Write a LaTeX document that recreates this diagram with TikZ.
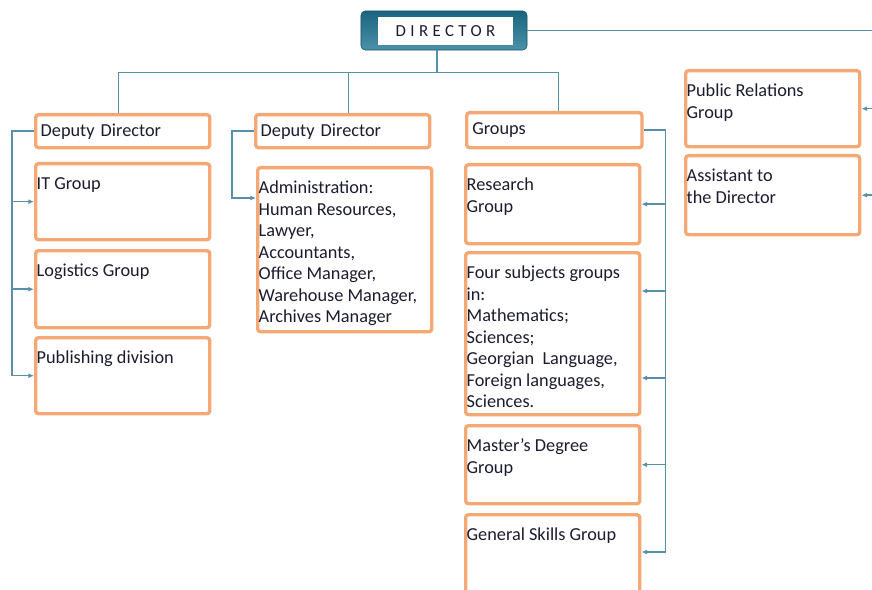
\documentclass[tikz,border=0pt]{standalone}
\usepackage{fontspec}
\setmainfont{Carlito}
\usetikzlibrary{arrows.meta,calc}

\definecolor{boxorange}{RGB}{244,168,118}
\definecolor{linkblue}{RGB}{88,144,170}
\definecolor{headteal}{RGB}{30,118,148}
\definecolor{ink}{RGB}{28,28,48}

% tall boxes: text hangs from the top
\newcommand{\cellbox}[2]{\parbox[c][#1][t]{4.3cm}{\raggedright\rule{0pt}{0.65cm}#2}}

\tikzset{
    unit/.style={draw=boxorange, line width=2.4pt, rounded corners=2pt, fill=white,
        anchor=north west, inner sep=0pt, minimum width=4.35cm, text=ink,
        font=\fontsize{13}{15.3}\selectfont},
    head/.style={unit, minimum height=#1, text width=4.1cm, align=left},
    link/.style={draw=linkblue, line width=1.1pt},
    feed/.style={link, -{Latex[length=4pt,width=3.5pt]}}
}

\begin{document}
\begin{tikzpicture}[x=0.025cm, y=-0.025cm]
    \useasboundingbox (0,0) rectangle (872,590);

    % top of the chart
    \node[draw=headteal!70!black, top color=headteal!85!black, bottom color=headteal!80!white,
        rounded corners=3pt, minimum width=4.15cm, minimum height=0.975cm] (director) at (444,30.5) {};
    \node[fill=white, minimum width=3.375cm, minimum height=0.7cm, text=ink,
        font=\fontsize{12}{14}\selectfont] (dirlabel) at (445.5,31) {\addfontfeature{LetterSpace=26}DIRECTOR};

    % first column
    \node[head=0.825cm] (dep1) at (34,113) {Deputy Director};
    \node[unit] (it) at (34,162) {\cellbox{1.9cm}{IT Group}};
    \node[unit] (logi) at (34,249) {\cellbox{1.925cm}{Logistics Group}};
    \node[unit] (pub) at (34,336) {\cellbox{1.9cm}{Publishing division}};

    % second column
    \node[head=0.825cm] (dep2) at (254,113) {Deputy Director};
    \node[unit] (admin) at (256,166) {\cellbox{4.1cm}{Administration:\\Human Resources,\\Lawyer,\\Accountants,\\Office Manager,\\Warehouse Manager,\\Archives Manager}};

    % third column
    \node[head=0.875cm, inner xsep=4pt] (groups) at (465,111) {Groups};
    \node[unit] (research) at (464,163) {\cellbox{1.975cm}{Research\\Group}};
    \node[unit] (four) at (464,251) {\cellbox{4.05cm}{Four subjects groups\\in:\\Mathematics;\\Sciences;\\Georgian\ \ Language,\\Foreign languages,\\Sciences.}};
    \node[unit] (master) at (464,424) {\cellbox{1.95cm}{Master's Degree\\Group}};
    \node[unit] (skills) at (464,513) {\cellbox{2.25cm}{General Skills Group}};

    % right column
    \node[unit] (pr) at (684,69) {\cellbox{1.9cm}{Public Relations\\Group}};
    \node[unit] (asst) at (684,154) {\cellbox{1.975cm}{Assistant to\\the Director}};

    % director to the three heads
    \draw[link] ([xshift=-0.17cm]director.south) -- ++(0,22) coordinate (hub);
    \draw[link] ([xshift=-0.1cm]dep1.north) |- (hub) -| ([xshift=0.1cm]groups.north);
    \draw[link] ([xshift=0.15cm]dep2.north) -- ([xshift=0.15cm]dep2.north |- hub);
    \coordinate (rim) at (872,30.5);
    \draw[link] (director.east) -- (rim);

    % first column spine
    \draw[link] (dep1.west) -- ++(-22,0) coordinate (spine1) -- (spine1 |- pub.west);
    \foreach \n in {it,logi,pub}
        \draw[feed] (spine1 |- \n.west) -- (\n.west);

    % second column
    \draw[feed] (dep2.west) -- ++(-22,0) |- ($(admin.north west)+(0,32)$);

    % third column spine
    \coordinate (g1) at ($(four.north west)+(0,40)$);
    \coordinate (g2) at ($(four.north west)+(0,127)$);
    \coordinate (g3) at ($(skills.north west)+(0,39)$);
    \draw[link] (groups.east) -- ++(22,0) coordinate (spine3) -- (spine3 |- g3);
    \draw[feed] (spine3 |- research.east) -- (research.east);
    \draw[feed] (spine3 |- g1) -- (four.east |- g1);
    \draw[feed] (spine3 |- g2) -- (four.east |- g2);
    \draw[feed] (spine3 |- master.east) -- (master.east);
    \draw[feed] (spine3 |- g3) -- (skills.east |- g3);

    % links coming in from the right
    \draw[feed] (rim |- pr.east) -- (pr.east);
    \draw[feed] (rim |- asst.east) -- (asst.east);
\end{tikzpicture}
\end{document}
